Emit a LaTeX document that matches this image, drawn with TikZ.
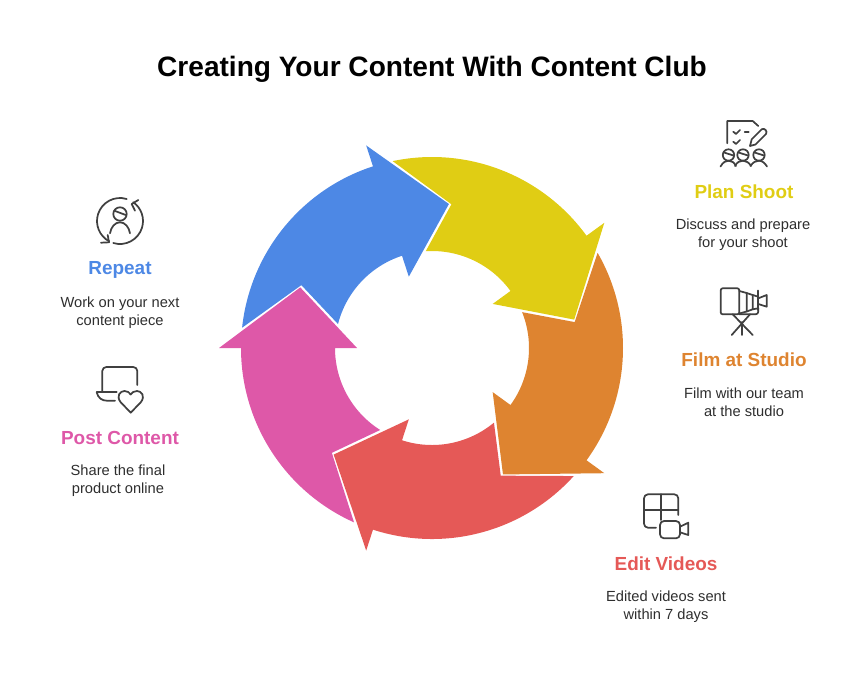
\documentclass[tikz,border=0pt]{standalone}
\usepackage{fontspec}
\setmainfont{Liberation Sans}
\definecolor{repeatblue}{HTML}{4D88E5}
\definecolor{planyellow}{HTML}{E0CD14}
\definecolor{filmorange}{HTML}{DE8430}
\definecolor{editred}{HTML}{E55957}
\definecolor{postpink}{HTML}{DE58A8}
\definecolor{iconink}{HTML}{404040}
\definecolor{bodyink}{HTML}{2E2E2E}

\begin{document}
\begin{tikzpicture}[x=0.75pt,y=-0.75pt,
  titlelabel/.style={font=\bfseries\fontsize{21.05}{26}\selectfont,text=black},
  headlabel/.style={font=\bfseries\fontsize{14.2}{17}\selectfont},
  bodylabel/.style={font=\fontsize{11}{13.5}\selectfont,text=bodyink,align=center},
  iconline/.style={draw=iconink,line width=1.3pt,line cap=round,line join=round}]
\useasboundingbox (0,0) rectangle (864,672);

\node[titlelabel] (title) at (432,69) {Creating Your Content With Content Club};

\begin{scope}[shift={(432,348)}]
\fill[planyellow] (258.1:191) arc[start angle=258.1,end angle=324,radius=191] -- (324:213) -- (348.7:145) -- (324:75) -- (324:97) arc[start angle=324,end angle=266.3,radius=97] -- (277.7:145) -- cycle;
\fill[filmorange] (330.1:191) arc[start angle=330.1,end angle=396,radius=191] -- (396:213) -- (420.7:145) -- (396:75) -- (396:97) arc[start angle=396,end angle=338.3,radius=97] -- (349.7:145) -- cycle;
\fill[editred] (42.1:191) arc[start angle=42.1,end angle=108,radius=191] -- (108:213) -- (132.7:145) -- (108:75) -- (108:97) arc[start angle=108,end angle=50.3,radius=97] -- (61.7:145) -- cycle;
\fill[postpink] (114.1:191) arc[start angle=114.1,end angle=180,radius=191] -- (180:213) -- (204.7:145) -- (180:75) -- (180:97) arc[start angle=180,end angle=122.3,radius=97] -- (133.7:145) -- cycle;
\fill[repeatblue] (186.1:191) arc[start angle=186.1,end angle=252,radius=191] -- (252:213) -- (276.7:145) -- (252:75) -- (252:97) arc[start angle=252,end angle=194.3,radius=97] -- (205.7:145) -- cycle;
\end{scope}

% plan shoot
\draw[iconline] (727.3,143.3)--(727.3,121)--(752.7,121)--(758.3,126);
\draw[iconline] (733.3,131.7)--(736,134)--(740,130);
\draw[iconline] (744.7,132.3)--(748.7,132.3);
\draw[iconline] (733.3,141.7)--(736,144)--(740,140);
\draw[iconline] (750,146)--(751.7,139.3)--(761.7,129.3) .. controls (764,127.5) and (768,131) .. (766,134)--(755.5,144.5)--cycle;
\draw[iconline] (728.5,155) circle[radius=5.7];
\draw[iconline] (743,155) circle[radius=5.7];
\draw[iconline] (759,155) circle[radius=5.7];
\draw[iconline] (724,152.5)--(733.5,155.5);
\draw[iconline] (738.5,152.5)--(748,155.5);
\draw[iconline] (754.5,152.5)--(764,155.5);
\draw[iconline] (720.5,166.5) .. controls (723,162) and (726,160.7) .. (728.5,160.7) .. controls (732,160.7) and (734,162.5) .. (736,166);
\draw[iconline] (735,166) .. controls (737,162) and (740,160.7) .. (743,160.7) .. controls (746,160.7) and (749,162.5) .. (751,166);
\draw[iconline] (750.5,166) .. controls (753,162) and (756,160.7) .. (759,160.7) .. controls (762,160.7) and (765,163) .. (767,166.5);

\node[headlabel,text=planyellow] (planhead) at (744,192) {Plan Shoot};
\node[bodylabel] (planbody) at (743,234.5) {Discuss and prepare\\for your shoot};

% film at studio
\draw[iconline,rounded corners=1.5pt] (720.7,288.3) rectangle (739.3,314.3);
\draw[iconline] (739.3,291)--(746.7,293)--(746.7,311.5)--(739.3,313.5);
\draw[iconline] (746.7,293)--(752.7,295)--(752.7,309.3)--(746.7,311.5);
\draw[iconline] (752.7,295)--(758.3,296.7);
\draw[iconline] (752.7,309.3)--(758.3,308.3);
\draw[iconline] (758.3,290.5)--(758.3,310);
\draw[iconline] (758.3,298.3)--(766.7,295)--(766.7,306.7)--(758.3,304);
\draw[iconline,rounded corners=2pt] (739.3,314.3)--(758.3,314.3)--(758.3,308);
\draw[iconline] (732.7,314.3)--(752.7,335);
\draw[iconline] (750,314.3)--(731.7,335);
\draw[iconline] (742.3,322)--(742.3,335);

\node[headlabel,text=filmorange] (filmhead) at (744,360) {Film at Studio};
\node[bodylabel] (filmbody) at (744,402.5) {Film with our team\\at the studio};

% edit videos
\draw[iconline,rounded corners=3pt] (656,527.7)--(644,527.7)--(644,494.3)--(678.3,494.3)--(678.3,515);
\draw[iconline] (644,510)--(678.3,510);
\draw[iconline] (661,494.3)--(661,520);
\draw[iconline,rounded corners=3pt] (660,521) rectangle (680,538.3);
\draw[iconline] (680,526.7)--(688.3,522.7)--(688.3,535)--(680,532.3);

\node[headlabel,text=editred] (edithead) at (666,564) {Edit Videos};
\node[bodylabel] (editbody) at (666,606.5) {Edited videos sent\\within 7 days};

% repeat
\begin{scope}[shift={(120,221)}]
\draw[iconline] (287:23) arc[start angle=287,end angle=118,radius=23];
\draw[iconline] (107:23) arc[start angle=107,end angle=-55,radius=23];
\end{scope}
\draw[iconline] (101,242.7)--(109,242.3)--(107.7,235);
\draw[iconline] (138.3,200)--(131.7,204)--(135,210.7);
\draw[iconline] (120,214) circle[radius=6.7];
\draw[iconline] (114.3,210.7)--(125.7,215);
\draw[iconline] (110,233.3) .. controls (111,227) and (115,222.3) .. (120,222.3) .. controls (125,222.3) and (129,227) .. (130,233.3);

\node[headlabel,text=repeatblue] (repeathead) at (120,270) {Repeat};
\node[bodylabel] (repeatbody) at (120,312.5) {Work on your next\\content piece};

% post content
\draw[iconline,rounded corners=3pt] (102.3,392)--(102.3,367)--(137.3,367)--(137.3,385);
\draw[iconline] (96.7,392.3)--(116.7,392.3);
\draw[iconline] (96.7,392.3) .. controls (98,398) and (102,400.7) .. (107,400.7)--(115,400.7);
\draw[iconline] (130.7,412.7)--(120.5,402) .. controls (116,396) and (120,391) .. (124.5,391) .. controls (127.5,391) and (129.5,392.5) .. (130.7,394.5) .. controls (132,392.5) and (134,391) .. (137,391) .. controls (141.5,391) and (145.5,396) .. (141,402)--cycle;

\node[headlabel,text=postpink] (posthead) at (120,438) {Post Content};
\node[bodylabel] (postbody) at (118,480.5) {Share the final\\product online};
\end{tikzpicture}
\end{document}
